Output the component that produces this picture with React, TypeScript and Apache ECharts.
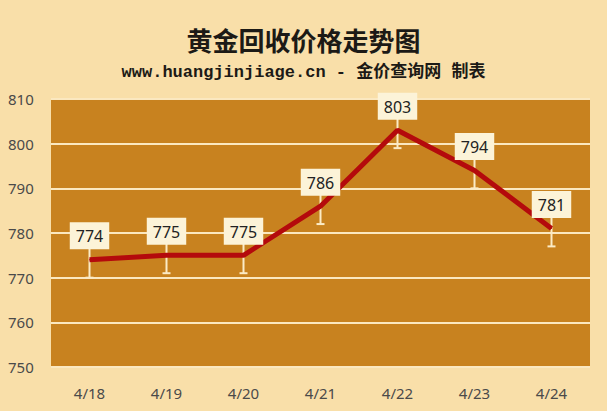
import React, { useEffect, useRef } from "react";
import * as echarts from "echarts";

const categories = ["4/18", "4/19", "4/20", "4/21", "4/22", "4/23", "4/24"];
const prices = [774, 775, 775, 786, 803, 794, 781];
const errorLow = [770, 771, 771, 782, 799, 790, 777];
const errorHigh = [778, 779, 779, 790, 807, 798, 785];

const titleText = "黄金回收价格走势图";
const subtitleText = "www.huangjinjiage.cn - 金价查询网 制表";

export default function App() {
  const ref = useRef<HTMLDivElement>(null);

  useEffect(() => {
    if (!ref.current) return;
    const chart = echarts.init(ref.current, null, { renderer: "svg" });
    const errData = categories.map((_, i) => [i, errorLow[i], errorHigh[i]]);
    chart.setOption({
      animation: false,
      backgroundColor: "#f9dfa9",
      title: [
        {
          text: titleText,
          left: "center",
          top: 21,
          textStyle: {
            fontFamily: "Noto Sans CJK SC",
            fontSize: 26,
            fontWeight: "bold",
            color: "#1c1a16",
          },
        },
        {
          text: subtitleText,
          left: "center",
          top: 59,
          textStyle: {
            fontFamily: "Liberation Mono, Noto Sans CJK SC",
            fontSize: 17,
            fontWeight: "bold",
            color: "#1c1a16",
          },
        },
      ],
      grid: {
        left: 51,
        right: 17,
        top: 99,
        bottom: 44,
        show: true,
        backgroundColor: "#c8821f",
        borderWidth: 0,
      },
      xAxis: {
        type: "category",
        data: categories,
        boundaryGap: true,
        axisLine: { show: false },
        axisTick: { show: false },
        axisLabel: {
          margin: 18,
          fontFamily: "Noto Sans",
          fontSize: 15,
          color: "#4a4a4a",
        },
      },
      yAxis: {
        type: "value",
        min: 750,
        max: 810,
        interval: 10,
        axisLine: { show: false },
        axisTick: { show: false },
        axisLabel: {
          align: "left",
          margin: 43,
          fontFamily: "Noto Sans",
          fontSize: 15,
          color: "#4a4a4a",
        },
        splitLine: {
          show: true,
          lineStyle: { color: "#fbe8c0", width: 2 },
        },
      },
      series: [
        {
          type: "custom",
          data: errData,
          encode: { x: 0, y: [1, 2] },
          z: 2,
          renderItem: (params: any, api: any) => {
            const x = api.value(0);
            const lo = api.coord([x, api.value(1)]);
            const hi = api.coord([x, api.value(2)]);
            const cap = 4;
            const style = { stroke: "#fbebc6", lineWidth: 2 };
            return {
              type: "group",
              children: [
                {
                  type: "line",
                  shape: { x1: lo[0], y1: lo[1], x2: hi[0], y2: hi[1] },
                  style,
                },
                {
                  type: "line",
                  shape: { x1: lo[0] - cap, y1: lo[1], x2: lo[0] + cap, y2: lo[1] },
                  style,
                },
              ],
            };
          },
        },
        {
          type: "line",
          data: prices,
          z: 3,
          symbol: "circle",
          symbolSize: 1,
          itemStyle: { color: "#b40a0c" },
          lineStyle: { color: "#b40a0c", width: 5 },
          label: {
            show: true,
            position: "top",
            distance: 10,
            fontFamily: "Noto Sans",
            fontSize: 16,
            color: "#222",
            backgroundColor: "#fcf3d8",
            padding: [5, 6, 4, 6],
            lineHeight: 18,
          },
        },
      ],
    });
    return () => chart.dispose();
  }, []);

  return (
    <div
      ref={ref}
      style={{ position: "fixed", left: 0, top: 0, width: 607, height: 411 }}
    />
  );
}
